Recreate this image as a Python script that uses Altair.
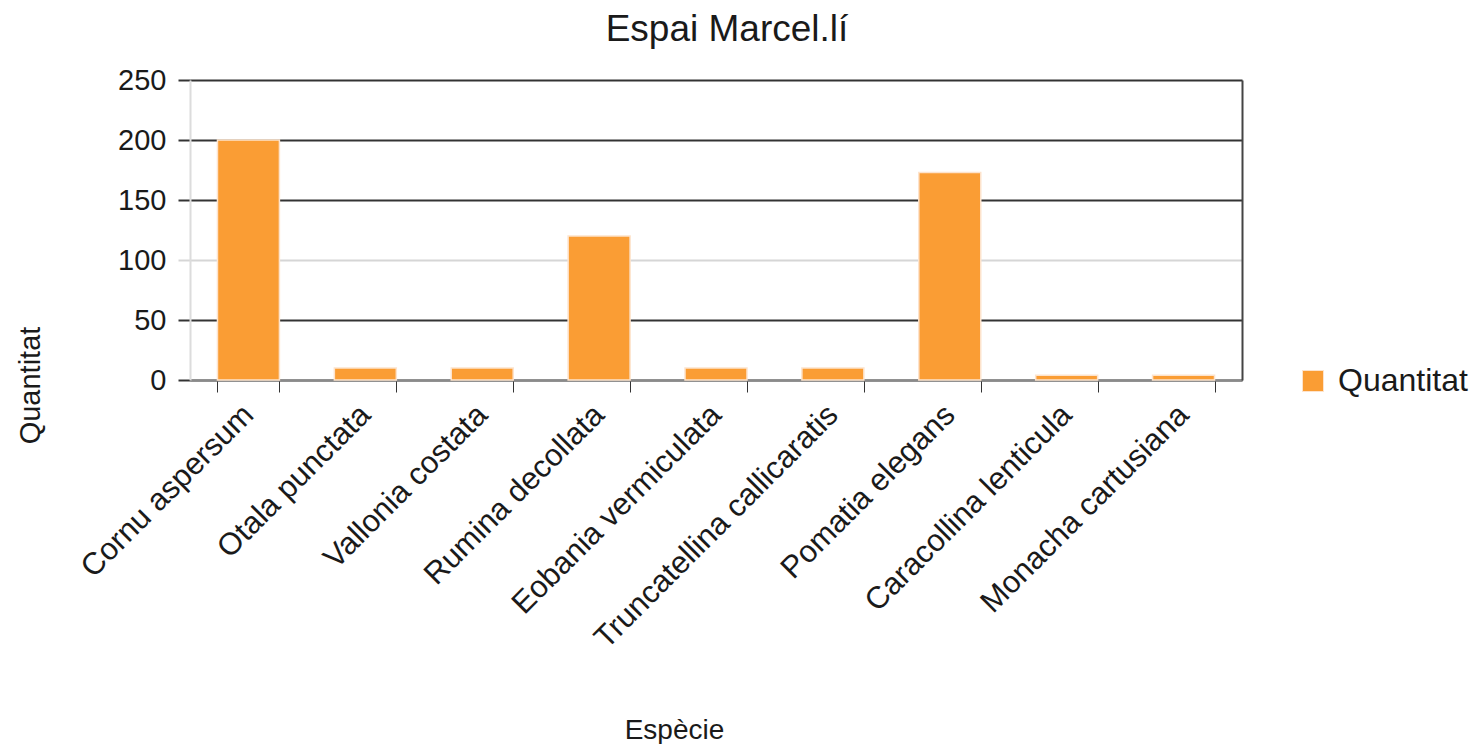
import altair as alt
import pandas as pd

especies = [
    "Cornu aspersum",
    "Otala punctata",
    "Vallonia costata",
    "Rumina decollata",
    "Eobania vermiculata",
    "Truncatellina callicaratis",
    "Pomatia elegans",
    "Caracollina lenticula",
    "Monacha cartusiana",
]
quantitat = [200, 10, 10, 120, 10, 10, 173, 4, 4]
serie = "Quantitat"
y_ticks = [0, 50, 100, 150, 200, 250]

df = pd.DataFrame({"Espècie": especies, "Quantitat": quantitat, "serie": [serie] * len(especies)})

FONT = "Liberation Sans"
TXT = "#1a1a1a"
ORANGE = "#FA9D34"

x_enc = alt.X(
    "Espècie:N",
    sort=especies,
    scale=alt.Scale(paddingInner=0.47, paddingOuter=0.235),
    axis=alt.Axis(
        title="Espècie",
        titleFont=FONT,
        titleFontSize=28,
        titleFontWeight="normal",
        titleColor=TXT,
        titleX=484,
        titleY=350,
        titleBaseline="middle",
        titleAlign="center",
        labelFont=FONT,
        labelFontSize=31,
        labelColor=TXT,
        labelAngle=-45,
        labelAlign="right",
        labelBaseline="middle",
        labelPadding=18,
        labelLimit=500,
        tickBand="extent",
        tickSize=12,
        tickColor="#333333",
        domainColor="#8a8a8a",
        domainWidth=2,
        grid=False,
        labelOverlap=False,
    ),
)

y_enc = alt.Y(
    "Quantitat:Q",
    scale=alt.Scale(domain=[0, 250], nice=False),
    axis=alt.Axis(
        values=y_ticks,
        title="Quantitat",
        titleFont=FONT,
        titleFontSize=29,
        titleFontWeight="normal",
        titleColor=TXT,
        titleAngle=-90,
        titleX=-160,
        titleY=305,
        titleBaseline="middle",
        titleAlign="center",
        labelFont=FONT,
        labelFontSize=29,
        labelColor=TXT,
        labelPadding=12,
        tickSize=12,
        tickWidth=2,
        tickColor={"condition": {"test": "datum.value === 100", "value": "#d6d6d6"},
                   "value": "#333333"},
        grid=True,
        gridWidth=2,
        gridColor={"condition": {"test": "datum.value === 100", "value": "#d6d6d6"},
                   "value": "#333333"},
        domainColor="#dcdcdc",
        domainWidth=2,
    ),
)

bars = alt.Chart(df).mark_bar(stroke="#fde3cc", strokeWidth=1.5).encode(
    x=x_enc,
    y=y_enc,
    color=alt.Color(
        "serie:N",
        scale=alt.Scale(range=[ORANGE]),
        legend=alt.Legend(
            title=None,
            orient="none",
            legendX=1107,
            legendY=285,
            labelFont=FONT,
            labelFontSize=32,
            labelColor=TXT,
            symbolType="square",
            symbolSize=441,
            symbolStrokeColor="#fde3cc",
            symbolStrokeWidth=1,
            labelOffset=9,
        ),
    ),
)

right_edge = alt.Chart(df).mark_bar(opacity=0).encode(
    x=alt.X("Espècie:N", sort=especies),
    y=alt.Y(
        "Quantitat:Q",
        scale=alt.Scale(domain=[0, 250], nice=False),
        axis=alt.Axis(orient="right", labels=False, ticks=False, grid=False, title=None,
                      domainColor="#444444", domainWidth=2),
    ),
)

chart = (
    alt.layer(bars, right_edge)
    .resolve_scale(y="independent")
    .properties(
        width=1052,
        height=300,
        title=alt.TitleParams(
            "Espai Marcel.lí",
            font=FONT,
            fontSize=37,
            fontWeight="normal",
            color=TXT,
            anchor="middle",
            offset=17,
            dx=11,
        ),
        autosize=alt.AutoSizeParams(type="none"),
        padding={"left": 182, "top": 72, "right": 227, "bottom": 364},
    )
    .configure_view(stroke=None)
    .configure(background="white")
)

chart.save("out.html", embed_options={"renderer": "svg", "actions": False})
